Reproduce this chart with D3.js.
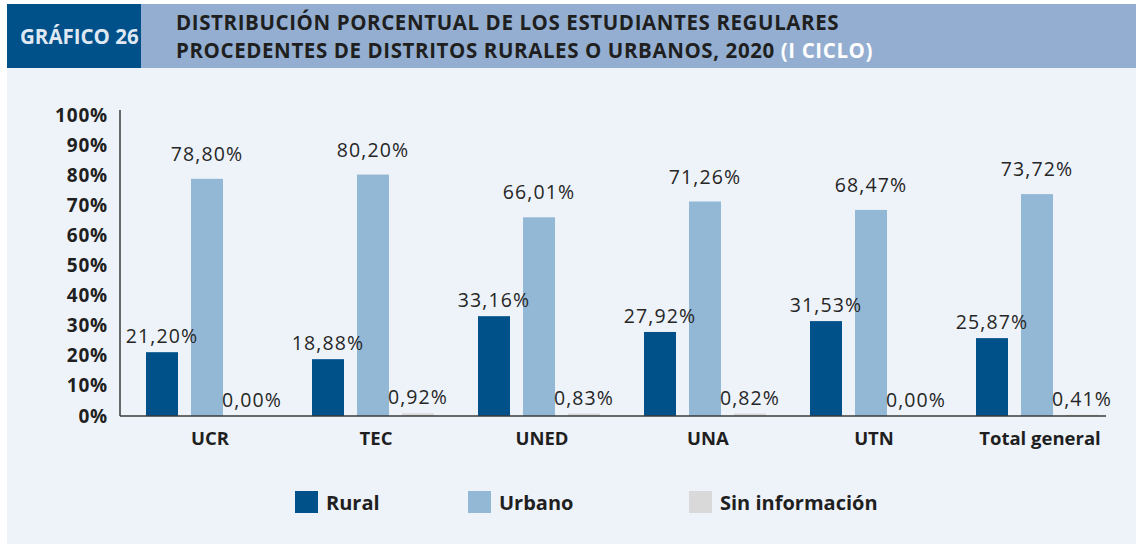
<!DOCTYPE html>
<html>
<head>
<meta charset="utf-8">
<script src="https://cdn.jsdelivr.net/npm/d3@7"></script>
<style>
  html, body { margin: 0; padding: 0; background: #fff; }
  svg { display: block; font-family: "Open Sans", sans-serif; }
</style>
</head>
<body>
<div id="chart"></div>
<script>
// data
var categories = ['UCR', 'TEC', 'UNED', 'UNA', 'UTN', 'Total general'];
var seriesNames = ['Rural', 'Urbano', 'Sin información'];
var rural = [21.20, 18.88, 33.16, 27.92, 31.53, 25.87];
var urbano = [78.80, 80.20, 66.01, 71.26, 68.47, 73.72];
var sinInfo = [0.00, 0.92, 0.83, 0.82, 0.00, 0.41];
var yTicks = [0, 10, 20, 30, 40, 50, 60, 70, 80, 90, 100];

var colors = { 'Rural': '#00508a', 'Urbano': '#93b8d5', 'Sin información': '#d9d9d9' };
var labelLift = { 'Rural': 9, 'Urbano': 18, 'Sin información': 9 };

var W = 1136, H = 544;
var svg = d3.select('#chart').append('svg').attr('width', W).attr('height', H);

// panel + header
svg.append('rect').attr('x', 7).attr('y', 4).attr('width', W - 7).attr('height', H - 4).attr('fill', '#eef3fa');
svg.append('rect').attr('x', 141).attr('y', 4).attr('width', W - 141).attr('height', 64).attr('fill', '#93aed0');
svg.append('rect').attr('x', 7).attr('y', 4).attr('width', 134).attr('height', 64).attr('fill', '#00508a');

svg.append('text').attr('x', 20).attr('y', 44)
    .attr('fill', '#dfe8f2').style('font-weight', 700).style('font-size', '20.5px')
    .text('GRÁFICO 26');

var title = svg.append('text').attr('fill', '#1f1f1f').style('font-weight', 700)
    .style('font-size', '20.5px').style('letter-spacing', '0.6px');
title.append('tspan').attr('x', 176).attr('y', 30).text('DISTRIBUCIÓN PORCENTUAL DE LOS ESTUDIANTES REGULARES');
var l2 = title.append('tspan').attr('x', 176).attr('y', 58);
l2.append('tspan').text('PROCEDENTES DE DISTRITOS RURALES O URBANOS, 2020 ');
l2.append('tspan').attr('fill', '#ffffff').text('(I CICLO)');

// scales
var x0 = d3.scaleBand().domain(categories).range([120, 1116]).paddingInner(0).paddingOuter(0);
var x1 = d3.scaleBand().domain(seriesNames).range([26, 148]).paddingInner(13 / 45).paddingOuter(0);
var y = d3.scaleLinear().domain([0, 100]).range([416, 115]);

// y axis labels
var yAxis = d3.axisLeft(y).tickValues(yTicks).tickSize(0).tickPadding(12).tickFormat(function(d) { return d + '%'; });
var gy = svg.append('g').attr('transform', 'translate(120,0)').call(yAxis);
gy.select('.domain').remove();
gy.selectAll('text').attr('fill', '#1f1f1f').style('font-family', '"Open Sans", sans-serif')
    .style('font-size', '19px').style('font-weight', 700).style('letter-spacing', '0.8px');

// bars
var rows = categories.map(function(c, i) {
  return { cat: c, vals: [
    { s: 'Rural', v: rural[i] },
    { s: 'Urbano', v: urbano[i] },
    { s: 'Sin información', v: sinInfo[i] }
  ] };
});

var groups = svg.selectAll('g.grp').data(rows).enter().append('g')
    .attr('class', 'grp')
    .attr('transform', function(d) { return 'translate(' + x0(d.cat) + ',0)'; });

groups.selectAll('rect').data(function(d) { return d.vals; }).enter().append('rect')
    .attr('x', function(d) { return x1(d.s); })
    .attr('y', function(d) { return y(d.v); })
    .attr('width', x1.bandwidth())
    .attr('height', function(d) { return y(0) - y(d.v); })
    .attr('fill', function(d) { return colors[d.s]; });

groups.selectAll('text.val').data(function(d) { return d.vals; }).enter().append('text')
    .attr('class', 'val')
    .attr('x', function(d) { return x1(d.s) + x1.bandwidth() / 2; })
    .attr('y', function(d) { return y(d.v) - labelLift[d.s]; })
    .attr('text-anchor', 'middle')
    .attr('fill', '#262626')
    .style('font-size', '19.5px')
    .style('letter-spacing', '1.1px')
    .text(function(d) { return d3.format('.2f')(d.v).replace('.', ',') + '%'; });

// axes lines
svg.append('line').attr('x1', 120).attr('x2', 120).attr('y1', 110).attr('y2', y(0))
    .attr('stroke', '#3a3a3a').attr('stroke-width', 1.5);
svg.append('line').attr('x1', 120).attr('x2', 1106).attr('y1', y(0)).attr('y2', y(0))
    .attr('stroke', '#3a3a3a').attr('stroke-width', 1.5);

// category labels
svg.selectAll('text.cat').data(categories).enter().append('text')
    .attr('class', 'cat')
    .attr('x', function(d) { return x0(d) + x1('Urbano') + x1.bandwidth() / 2 + 3; })
    .attr('y', 445)
    .attr('text-anchor', 'middle')
    .attr('fill', '#1f1f1f')
    .style('font-size', '18.5px').style('font-weight', 700)
    .text(function(d) { return d; });

// legend
var legendX = [295, 468, 689];
var leg = svg.selectAll('g.leg').data(seriesNames).enter().append('g')
    .attr('class', 'leg')
    .attr('transform', function(d, i) { return 'translate(' + legendX[i] + ',491)'; });
leg.append('rect').attr('width', 23).attr('height', 22).attr('fill', function(d) { return colors[d]; });
leg.append('text').attr('x', 31).attr('y', 19)
    .attr('fill', '#1f1f1f').style('font-size', '20px').style('font-weight', 700)
    .text(function(d) { return d; });
</script>
</body>
</html>
